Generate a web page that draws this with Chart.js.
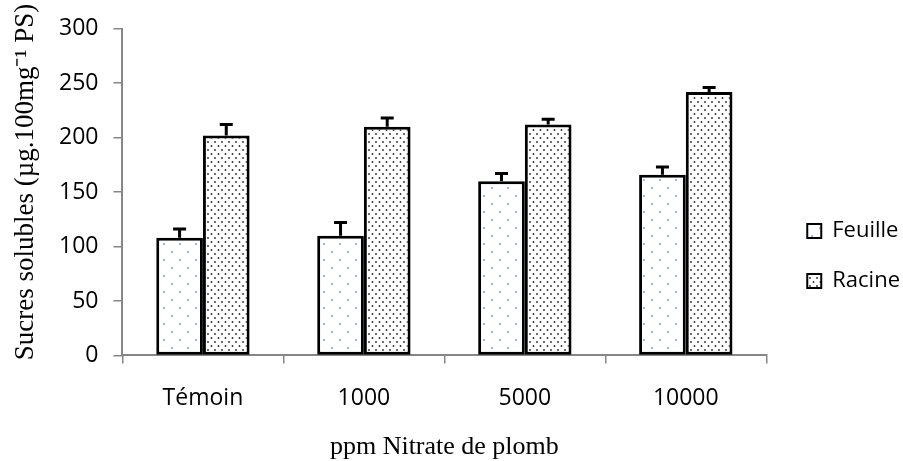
<!DOCTYPE html>
<html>
<head>
<meta charset="utf-8">
<script src="https://cdn.jsdelivr.net/npm/chart.js@4"></script>
<style>
  html, body { margin: 0; padding: 0; background: #fff; }
  #wrap { width: 903px; height: 461px; }
</style>
</head>
<body>
<div id="wrap"><canvas id="chart" width="903" height="461"></canvas></div>
<script>
// Données
const categories = ['Témoin', '1000', '5000', '10000'];
const feuille = [108, 110, 160, 166];
const feuilleErr = [8, 12, 7, 7];
const racine = [202, 210, 212, 242];
const racineErr = [10, 8, 5, 4];
const yTicks = [0, 50, 100, 150, 200, 250, 300];

// Motifs de remplissage (pointillés)
function motif(l, h, points, couleur, rayon) {
    const c = document.createElement('canvas');
    c.width = l; c.height = h;
    const g = c.getContext('2d');
    g.fillStyle = '#fff';
    g.fillRect(0, 0, l, h);
    g.fillStyle = couleur;
    points.forEach(p => {
        g.beginPath();
        g.arc(p[0], p[1], rayon, 0, Math.PI * 2);
        g.fill();
    });
    return g.createPattern(c, 'repeat');
}
const ctx = document.getElementById('chart').getContext('2d');
const motifFeuille = motif(16, 16, [[4, 4], [12, 12]], '#6f9fd8', 0.95);
const motifRacine = motif(7, 8, [[1.5, 2], [5, 6]], '#2a2a2a', 0.9);

// Barres d'erreur (vers le haut uniquement)
const barresErreur = {
    id: 'barresErreur',
    afterDatasetsDraw(chart) {
        const c = chart.ctx;
        const y = chart.scales.y;
        const erreurs = [feuilleErr, racineErr];
        chart.data.datasets.forEach((ds, i) => {
            const meta = chart.getDatasetMeta(i);
            meta.data.forEach((bar, j) => {
                const haut = y.getPixelForValue(ds.data[j] + erreurs[i][j]);
                c.save();
                c.strokeStyle = '#000';
                c.lineWidth = 3;
                c.beginPath();
                c.moveTo(bar.x, bar.y);
                c.lineTo(bar.x, haut);
                c.moveTo(bar.x - 6.5, haut);
                c.lineTo(bar.x + 6.5, haut);
                c.stroke();
                c.restore();
            });
        });
    }
};

const optionsBarre = {
    borderColor: '#000',
    borderWidth: 3,
    borderSkipped: false,
    categoryPercentage: 0.58,
    barPercentage: 1
};

new Chart(ctx, {
    type: 'bar',
    data: {
        labels: categories,
        datasets: [
            Object.assign({ label: 'Feuille', data: feuille, backgroundColor: motifFeuille }, optionsBarre),
            Object.assign({ label: 'Racine', data: racine, backgroundColor: motifRacine }, optionsBarre)
        ]
    },
    options: {
        responsive: false,
        animation: false,
        layout: { padding: { top: 28, right: -7, bottom: 0, left: 0 } },
        plugins: {
            legend: {
                position: 'right',
                align: 'center',
                // titre vide : décale les entrées vers le bas
                title: { display: true, text: ' ', font: { size: 10, lineHeight: 1 }, padding: { top: 13, bottom: 0 } },
                labels: {
                    font: { family: 'Open Sans', size: 22 },
                    color: '#000',
                    boxWidth: 14,
                    boxHeight: 14,
                    padding: 28,
                    generateLabels: function(chart) {
                        return chart.data.datasets.map((ds, i) => ({
                            text: ds.label,
                            fillStyle: ds.backgroundColor,
                            strokeStyle: '#000',
                            lineWidth: 2,
                            fontColor: '#000',
                            datasetIndex: i
                        }));
                    }
                }
            },
            tooltip: { enabled: false }
        },
        scales: {
            x: {
                grid: {
                    drawOnChartArea: false,
                    color: '#868686',
                    lineWidth: 1.5,
                    tickLength: 8,
                    offset: true
                },
                border: { color: '#868686', width: 2 },
                ticks: {
                    font: { family: 'Open Sans', size: 23 },
                    color: '#000',
                    padding: 21
                },
                title: {
                    display: true,
                    text: 'ppm Nitrate de plomb',
                    font: { family: 'Liberation Serif', size: 26, lineHeight: 1 },
                    color: '#000',
                    padding: { top: 1, bottom: 1 }
                }
            },
            y: {
                min: 0,
                max: 300,
                afterBuildTicks: axis => { axis.ticks = yTicks.map(v => ({ value: v })); },
                grid: {
                    drawOnChartArea: false,
                    color: '#868686',
                    lineWidth: 1.5,
                    tickLength: 9
                },
                border: { color: '#868686', width: 2 },
                ticks: {
                    font: { family: 'Open Sans', size: 23 },
                    color: '#000',
                    padding: 15
                },
                title: {
                    display: true,
                    text: '   Sucres solubles (µg.100mg⁻¹ PS)',
                    font: { family: 'Liberation Serif', size: 27, lineHeight: 1 },
                    color: '#000',
                    padding: { top: 12, bottom: 5 }
                }
            },
            // axe vide à droite : marge entre le graphique et la légende
            marge: {
                axis: 'y',
                position: 'right',
                display: true,
                grid: { display: false },
                border: { display: false },
                ticks: { display: false },
                afterFit: s => { s.width = 13; }
            }
        }
    },
    plugins: [barresErreur]
});
</script>
</body>
</html>
